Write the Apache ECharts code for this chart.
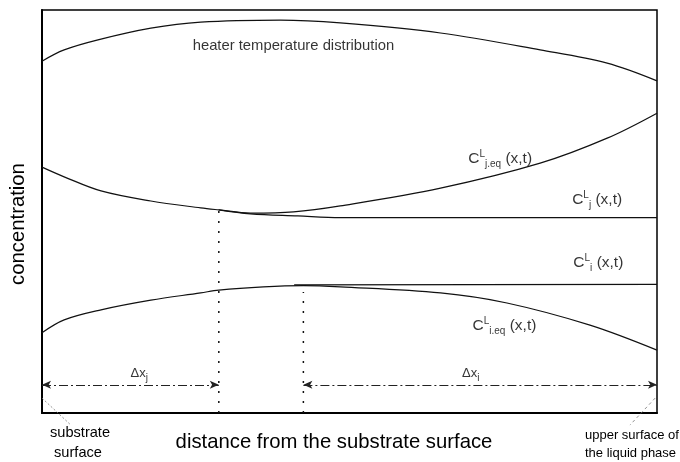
<!DOCTYPE html>
<html>
<head>
<meta charset="utf-8">
<title>concentration profiles</title>
<script src="https://cdn.jsdelivr.net/npm/echarts@6/dist/echarts.min.js"></script>
<style>
html,body{margin:0;padding:0;background:#fff;}
#chart{width:680px;height:462px;}
</style>
</head>
<body>
<div id="chart"></div>
<script>
// x: 0 = substrate surface, 100 = upper surface of the liquid phase
var heaterX = [0, 3.6, 9.1, 17.7, 25.8, 38.8, 48.5, 64.8, 81.0, 91.9, 100];
var heaterY = [87.3, 90.1, 92.6, 95.5, 97.0, 97.5, 96.8, 94.3, 90.1, 86.8, 82.4];

var cjEqX = [0, 3.6, 9.6, 17.7, 25.8, 28.75, 33.9, 40.9, 48.5, 64.8, 81.0, 91.9, 100];
var cjEqY = [61.0, 58.6, 55.1, 52.6, 50.9, 50.4, 49.6, 49.9, 51.4, 55.8, 62.0, 68.2, 74.4];

var cjX = [28.75, 33.9, 41.6, 48.5, 100];
var cjY = [50.4, 49.4, 48.9, 48.5, 48.5];

var ciEqX = [0, 3.6, 9.6, 17.7, 25.8, 28.75, 36.0, 42.5, 48.5, 64.8, 75.6, 89.1, 100];
var ciEqY = [19.9, 23.1, 25.6, 28.0, 29.8, 30.5, 31.3, 31.6, 31.3, 29.8, 27.3, 21.8, 15.6];

var ciX = [41.0, 100];
var ciY = [31.8, 31.9];

// 分离点 (Δx_j, Δx_i 的边界)
var dropX = [28.75, 42.5];
var dropTop = [50.4, 30.0];
var arrowFrom = [0, 42.5];
var arrowTo = [28.75, 100];
var arrowY = 7;

// 标注文字
var noteText = [
  'heater temperature distribution',
  '{c|C}{sup|L}{sub|j.eq}{c| (x,t)}',
  '{c|C}{sup|L}{sub|j}{c| (x,t)}',
  '{c|C}{sup|L}{sub|i}{c| (x,t)}',
  '{c|C}{sup|L}{sub|i.eq}{c| (x,t)}',
  '{d|\u0394x}{sub|j}',
  '{d|\u0394x}{sub|i}'
];
var noteX = [24.5, 69.3, 86.2, 86.4, 70.0, 14.4, 68.3];
var noteY = [91.1, 63.0, 52.9, 37.2, 21.6, 9.9, 9.9];

function zip(xs, ys) {
  var res = [];
  for (var i = 0; i < xs.length; i++) res.push([xs[i], ys[i]]);
  return res;
}

var font = '"Liberation Sans", Arial, sans-serif';
var lineCol = '#111';

function curve(name, xs, ys) {
  return {
    name: name,
    type: 'line',
    data: zip(xs, ys),
    smooth: 0.35,
    showSymbol: false,
    symbol: 'none',
    lineStyle: {color: lineCol, width: 1.2}
  };
}

var series = [
  curve('heater', heaterX, heaterY),
  curve('Cj,eq', cjEqX, cjEqY),
  curve('Cj', cjX, cjY),
  curve('Ci,eq', ciEqX, ciEqY),
  curve('Ci', ciX, ciY)
];

// 虚线竖线
for (var k = 0; k < dropX.length; k++) {
  series.push({
    type: 'line',
    data: [[dropX[k], 0], [dropX[k], dropTop[k]]],
    symbol: 'none',
    lineStyle: {color: lineCol, width: 1.5, type: [2, 8]}
  });
}

// 箭头 Δx
var arrowLines = [];
for (var a = 0; a < arrowFrom.length; a++) {
  arrowLines.push([{coord: [arrowFrom[a], arrowY]}, {coord: [arrowTo[a], arrowY]}]);
}
series.push({
  type: 'line',
  data: [],
  markLine: {
    silent: true,
    symbol: ['arrow', 'arrow'],
    symbolSize: [6, 9],
    label: {show: false},
    lineStyle: {color: '#222', width: 1, type: [9, 3, 2, 3]},
    data: arrowLines
  }
});

// 引线 (substrate surface / upper surface)
series.push({
  type: 'line', clip: false, symbol: 'none',
  data: [[0, 3.7], [4.7, -3.0]],
  lineStyle: {color: '#777', width: 0.8, type: [2, 2]}
});
series.push({
  type: 'line', clip: false, symbol: 'none',
  data: [[99.7, 3.7], [95.6, -3.0]],
  lineStyle: {color: '#777', width: 0.8, type: [3, 3]}
});

// 文字标注
var notes = [];
for (var n = 0; n < noteText.length; n++) {
  notes.push({value: [noteX[n], noteY[n]], label: {formatter: noteText[n]}});
}
series.push({
  type: 'scatter',
  symbolSize: 0,
  data: notes,
  label: {
    show: true,
    position: 'right',
    distance: 0,
    color: '#000',
    fontFamily: font,
    fontSize: 14.8,
    rich: {
      c: {fontSize: 15.5, fontFamily: font, color: '#000', lineHeight: 20, verticalAlign: 'middle'},
      d: {fontSize: 13, fontFamily: font, color: '#000', lineHeight: 20, verticalAlign: 'middle'},
      sup: {fontSize: 10, fontFamily: font, color: '#000', lineHeight: 20, verticalAlign: 'top'},
      sub: {fontSize: 10, fontFamily: font, color: '#000', lineHeight: 20, verticalAlign: 'bottom'}
    }
  }
});

var myChart = echarts.init(document.getElementById('chart'));
var option = {
  animation: false,
  backgroundColor: '#fff',
  grid: {
    left: 41, right: 23, top: 10, bottom: 49,
    show: true, borderColor: '#000', borderWidth: 1.5
  },
  xAxis: {
    type: 'value', min: 0, max: 100,
    name: 'distance from the substrate surface',
    nameLocation: 'middle', nameGap: 19,
    nameTextStyle: {fontFamily: font, fontSize: 20.3, color: '#000', padding: [0, 31, 0, 0]},
    axisLine: {lineStyle: {color: '#000', width: 2}},
    axisTick: {show: false}, axisLabel: {show: false}, splitLine: {show: false}
  },
  yAxis: {
    type: 'value', min: 0, max: 100,
    name: 'concentration',
    nameLocation: 'middle', nameGap: 14,
    nameTextStyle: {fontFamily: font, fontSize: 20.3, color: '#000', padding: [0, 25, 0, 0]},
    axisLine: {show: true, lineStyle: {color: '#000', width: 2}},
    axisTick: {show: false}, axisLabel: {show: false}, splitLine: {show: false}
  },
  graphic: [
    {type: 'text', left: 50, top: 423, style: {text: 'substrate\n surface', font: '14.6px ' + font, fill: '#000', lineHeight: 20, textAlign: 'left'}},
    {type: 'text', left: 585, top: 426, style: {text: 'upper surface of\nthe liquid phase', font: '13px ' + font, fill: '#000', lineHeight: 18}}
  ],
  series: series
};
myChart.setOption(option);
</script>
</body>
</html>
